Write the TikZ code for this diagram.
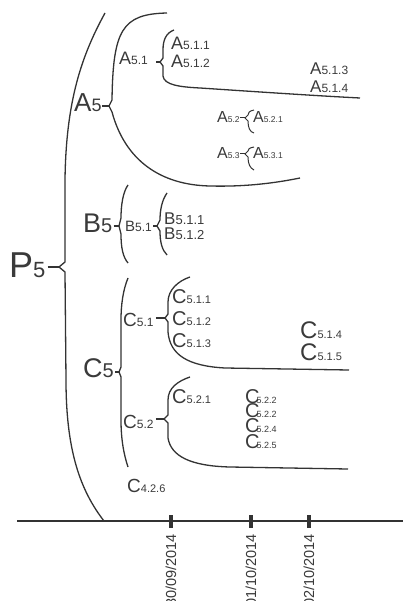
\documentclass[tikz,border=0pt]{standalone}
\usepackage{fontspec}
\setmainfont{Liberation Sans}
\usepackage{tikz}
\usetikzlibrary{calc}
\definecolor{ink}{HTML}{333333}
\definecolor{txt}{HTML}{3A3A3A}
% letter with a smaller index on the same baseline
\newcommand{\lbltxt}[3]{#1{\fontsize{#3}{#3}\selectfont #2}}

\begin{document}
\begin{tikzpicture}[x=1pt, y=-1pt,
  brc/.style={draw=ink, line width=1.3pt},
  lbl/.style={text=txt, inner sep=0pt, anchor=base west},
  date/.style={text=txt, inner sep=0pt, rotate=90, anchor=east, font=\fontsize{14.5}{14.5}\selectfont}]
  \useasboundingbox (0,0) rectangle (403,601);

  % === TIMELINE ===
  \coordinate (t0) at (17,521);
  \coordinate (t1) at (403,521);
  \coordinate (tP) at (104,521);
  \draw[ink, line width=1.8pt] (t0) -- (t1);
  \foreach \x/\d [count=\i] in {171/{30/09/2014}, 251/{01/10/2014}, 309/{02/10/2014}} {
    \coordinate (k\i) at (\x,521);
    \draw[ink, line width=3.5pt] ($(k\i)+(0,-6)$) -- ($(k\i)+(0,7)$);
    \node[date] (d\i) at ($(k\i)+(0,13)$) {\d};
  }

  % === LEVEL 0: P5 ===
  \node[lbl, font=\fontsize{36}{36}\selectfont] (p5) at (9,277) {\lbltxt{P}{5}{22}};
  \coordinate (pP) at (59,267);
  \draw[brc, shorten <=2pt] (p5.east |- pP) -- (pP);
  \draw[brc] (105,13) .. controls (82,55) and (66,100) .. (65,180) -- (65,262) -- (pP) -- (65,272)
    -- (66,380) .. controls (66,450) and (80,490) .. (tP);

  % === LEVEL 1: A5 ===
  \node[lbl, font=\fontsize{26}{26}\selectfont] (a5) at (74,112) {\lbltxt{A}{5}{18}};
  \coordinate (pA) at (109,106);
  \draw[brc] (a5.east |- pA) -- (pA);
  \draw[brc] (167,13) .. controls (122,14) and (113,30) .. (112,100) -- (pA) -- (112,112)
    .. controls (125,160) and (160,185) .. (210,186) .. controls (250,187) and (280,182) .. (300,178);

  % A5.1
  \node[lbl, font=\fontsize{18}{18}\selectfont] (a51) at (119,65) {\lbltxt{A}{5.1}{12}};
  \coordinate (pA1) at (160,62);
  \draw[brc, shorten <=8pt] (a51.east |- pA1) -- (pA1);
  \draw[brc] (174,30) .. controls (166,33) and (163,40) .. (163,50) -- (163,58) -- (pA1) -- (163,66)
    -- (163,76) .. controls (164,85) and (180,87) .. (200,88) .. controls (260,92) and (320,96) .. (360,98);
  \node[lbl, font=\fontsize{18}{18}\selectfont] (a511) at (171,50) {\lbltxt{A}{5.1.1}{12}};
  \node[lbl, font=\fontsize{18}{18}\selectfont] (a512) at (171,68) {\lbltxt{A}{5.1.2}{12}};
  \node[lbl, font=\fontsize{17}{17}\selectfont] (a513) at (310,75) {\lbltxt{A}{5.1.3}{12}};
  \node[lbl, font=\fontsize{17}{17}\selectfont] (a514) at (310,93) {\lbltxt{A}{5.1.4}{12}};

  % A5.2 and A5.3 (small)
  \node[lbl, font=\fontsize{16}{16}\selectfont] (a52) at (217,123) {\lbltxt{A}{5.2}{8.5}};
  \coordinate (pA2) at (245,118);
  \draw[brc, line width=1pt] (a52.east |- pA2) -- (pA2);
  \draw[brc, line width=1pt] (254,110) .. controls (249,111) and (248,113) .. (248,115) -- (pA2) -- (248,121)
    .. controls (248,128) and (250,132) .. (254,133);
  \node[lbl, font=\fontsize{16}{16}\selectfont] (a521) at (253,123) {\lbltxt{A}{5.2.1}{8.5}};

  \node[lbl, font=\fontsize{16}{16}\selectfont] (a53) at (217,159) {\lbltxt{A}{5.3}{8.5}};
  \coordinate (pA3) at (245,154);
  \draw[brc, line width=1pt] (a53.east |- pA3) -- (pA3);
  \draw[brc, line width=1pt] (254,147) .. controls (249,148) and (248,149) .. (248,151) -- (pA3) -- (248,157)
    .. controls (248,164) and (250,168) .. (254,170);
  \node[lbl, font=\fontsize{16}{16}\selectfont] (a531) at (253,159) {\lbltxt{A}{5.3.1}{8.5}};

  % === LEVEL 1: B5 ===
  \node[lbl, font=\fontsize{27}{27}\selectfont] (b5) at (83,233) {\lbltxt{B}{5}{20}};
  \coordinate (pB) at (119,226);
  \draw[brc, shorten <=1pt] (b5.east |- pB) -- (pB);
  \draw[brc] (128,185) .. controls (123,192) and (121,205) .. (121,218) -- (pB) -- (121,234)
    .. controls (121,248) and (123,257) .. (128,263);

  \node[lbl, font=\fontsize{15}{15}\selectfont] (b51) at (125,232) {\lbltxt{B}{5.1}{12}};
  \coordinate (pB1) at (157,226);
  \draw[brc, shorten <=1pt] (b51.east |- pB1) -- (pB1);
  \draw[brc] (167,193) .. controls (162,200) and (160,210) .. (160,220) -- (pB1) -- (160,231)
    .. controls (160,242) and (162,250) .. (167,255);
  \node[lbl, font=\fontsize{17}{17}\selectfont] (b511) at (164,225) {\lbltxt{B}{5.1.1}{13}};
  \node[lbl, font=\fontsize{17}{17}\selectfont] (b512) at (164,240) {\lbltxt{B}{5.1.2}{13}};

  % === LEVEL 1: C5 ===
  \node[lbl, font=\fontsize{27}{27}\selectfont] (c5) at (83,377) {\lbltxt{C}{5}{20}};
  \coordinate (pC) at (119,372);
  \draw[brc, shorten <=1pt] (c5.east |- pC) -- (pC);
  \draw[brc] (128,278) .. controls (123,290) and (121,305) .. (121,320) -- (121,367) -- (pC) -- (121,377)
    -- (121,420) .. controls (121,440) and (124,455) .. (128,467);

  % C5.1
  \node[lbl, font=\fontsize{19}{19}\selectfont] (c51) at (123,326) {\lbltxt{C}{5.1}{12}};
  \coordinate (pC1) at (165,318);
  \draw[brc, shorten <=2pt] (c51.east |- pC1) -- (pC1);
  \draw[brc] (190,277) .. controls (178,281) and (168,290) .. (168,302) -- (168,314) -- (pC1) -- (168,322)
    -- (168,332) .. controls (170,355) and (188,366) .. (225,368) -- (349,370);
  \node[lbl, font=\fontsize{20}{20}\selectfont] (c511) at (172,303) {\lbltxt{C}{5.1.1}{11}};
  \node[lbl, font=\fontsize{20}{20}\selectfont] (c512) at (172,325) {\lbltxt{C}{5.1.2}{11}};
  \node[lbl, font=\fontsize{20}{20}\selectfont] (c513) at (172,347) {\lbltxt{C}{5.1.3}{11}};
  \node[lbl, font=\fontsize{24}{24}\selectfont] (c514) at (300,338) {\lbltxt{C}{5.1.4}{11}};
  \node[lbl, font=\fontsize{24}{24}\selectfont] (c515) at (300,360) {\lbltxt{C}{5.1.5}{11}};

  % C5.2
  \node[lbl, font=\fontsize{19}{19}\selectfont] (c52) at (123,428) {\lbltxt{C}{5.2}{12}};
  \coordinate (pC2) at (164,419);
  \draw[brc, shorten <=2pt] (c52.east |- pC2) -- (pC2);
  \draw[brc] (190,377) .. controls (178,381) and (168,388) .. (168,400) -- (168,415) -- (pC2) -- (168,423)
    -- (168,438) .. controls (171,456) and (190,466) .. (230,467) -- (348,469);
  \node[lbl, font=\fontsize{20}{20}\selectfont] (c521) at (172,403) {\lbltxt{C}{5.2.1}{11}};
  \node[lbl, font=\fontsize{20}{20}\selectfont] (c522) at (245,403) {\lbltxt{C\kern-3pt}{5.2.2}{9}};
  \node[lbl, font=\fontsize{20}{20}\selectfont] (c523) at (245,417) {\lbltxt{C\kern-3pt}{5.2.2}{9}};
  \node[lbl, font=\fontsize{20}{20}\selectfont] (c524) at (245,432) {\lbltxt{C\kern-3pt}{5.2.4}{9}};
  \node[lbl, font=\fontsize{20}{20}\selectfont] (c525) at (245,448) {\lbltxt{C\kern-3pt}{5.2.5}{9}};

  \node[lbl, font=\fontsize{19}{19}\selectfont] (c426) at (127,492) {\lbltxt{C}{4.2.6}{11}};
\end{tikzpicture}
\end{document}
